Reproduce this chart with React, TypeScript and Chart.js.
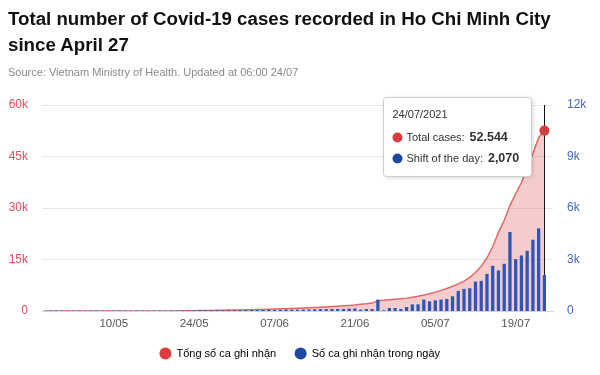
import React, { useEffect, useRef } from 'react';
import { Chart, registerables } from 'chart.js';

Chart.register(...registerables);

const DATES = [
  '28/04', '29/04', '30/04',
  '01/05', '02/05', '03/05', '04/05', '05/05', '06/05', '07/05', '08/05', '09/05', '10/05',
  '11/05', '12/05', '13/05', '14/05', '15/05', '16/05', '17/05', '18/05', '19/05', '20/05',
  '21/05', '22/05', '23/05', '24/05', '25/05', '26/05', '27/05', '28/05', '29/05', '30/05', '31/05',
  '01/06', '02/06', '03/06', '04/06', '05/06', '06/06', '07/06', '08/06', '09/06', '10/06',
  '11/06', '12/06', '13/06', '14/06', '15/06', '16/06', '17/06', '18/06', '19/06', '20/06',
  '21/06', '22/06', '23/06', '24/06', '25/06', '26/06', '27/06', '28/06', '29/06', '30/06',
  '01/07', '02/07', '03/07', '04/07', '05/07', '06/07', '07/07', '08/07', '09/07', '10/07',
  '11/07', '12/07', '13/07', '14/07', '15/07', '16/07', '17/07', '18/07', '19/07', '20/07',
  '21/07', '22/07', '23/07', '24/07',
];
const YEAR = '2021';

const TOTAL_CASES = [
  0, 0, 2,
  3, 3, 5, 5, 6, 8, 8, 10, 10, 12,
  12, 14, 15, 15, 18, 20, 20, 22, 25, 28,
  32, 40, 55, 80, 110, 140, 170, 200, 230, 260, 290,
  320, 350, 390, 430, 470, 520, 570, 620, 680, 740,
  800, 870, 940, 1020, 1110, 1200, 1300, 1400, 1500, 1620,
  1750, 1950, 2100, 2300, 3000, 3100, 3250, 3400, 3550, 3750,
  4000, 4300, 4650, 5050, 5500, 6000, 6550, 7200, 7900, 8700,
  9800, 11200, 13000, 15500, 18700, 22900, 26340, 30700, 34150, 37360,
  41900, 45850, 50474, 52544,
];

const DAILY_CASES = [
  0, 0, 2,
  0, 0, 2, 0, 1, 2, 0, 2, 0, 2,
  0, 2, 1, 0, 3, 2, 0, 2, 3, 3,
  4, 8, 15, 25, 30, 30, 30, 30, 30, 30, 30,
  30, 30, 40, 40, 40, 50, 50, 50, 60, 60,
  60, 70, 70, 80, 90, 90, 100, 100, 100, 120,
  130, 59, 98, 98, 644, 20, 156, 156, 98, 215,
  371, 371, 644, 546, 605, 644, 683, 839, 1150, 1268,
  1307, 1697, 1736, 2145, 2613, 2340, 2730, 4583, 3003, 3218,
  3490, 4134, 4797, 2070,
];

const X_TICK_LABELS = ['10/05', '24/05', '07/06', '21/06', '05/07', '19/07'];
const LEFT_TICKS = [0, 15000, 30000, 45000, 60000];
const RIGHT_TICKS = [0, 3000, 6000, 9000, 12000];
const SERIES_NAMES = ['Tổng số ca ghi nhận', 'Số ca ghi nhận trong ngày'];
const TOOLTIP_LABELS = ['Total cases:', 'Shift of the day:'];

const FONT = '"Liberation Sans", Arial, Helvetica, sans-serif';
const RED = '#d93d3d';
const BLUE = '#1f47a6';
const BAR_BLUE = '#2c57b9';

const kFmt = (v: number) => (v === 0 ? '0' : v / 1000 + 'k');
const sepFmt = (v: number, sep: string) => String(v).replace(/\B(?=(\d{3})+(?!\d))/g, sep);

function roundRect(ctx: CanvasRenderingContext2D, x: number, y: number, w: number, h: number, r: number) {
  ctx.beginPath();
  ctx.moveTo(x + r, y);
  ctx.lineTo(x + w - r, y);
  ctx.arcTo(x + w, y, x + w, y + r, r);
  ctx.lineTo(x + w, y + h - r);
  ctx.arcTo(x + w, y + h, x + w - r, y + h, r);
  ctx.lineTo(x + r, y + h);
  ctx.arcTo(x, y + h, x, y + h - r, r);
  ctx.lineTo(x, y + r);
  ctx.arcTo(x, y, x + r, y, r);
  ctx.closePath();
}

const crosshairPlugin = {
  id: 'crosshair',
  beforeDatasetsDraw(chart: any) {
    const last = DATES.length - 1;
    const pt = chart.getDatasetMeta(0).data[last];
    if (!pt) return;
    const { ctx, chartArea } = chart;
    ctx.save();
    ctx.strokeStyle = '#111';
    ctx.lineWidth = 1;
    ctx.beginPath();
    const x = Math.round(pt.x) + 0.5;
    ctx.moveTo(x, chartArea.top);
    ctx.lineTo(x, chartArea.bottom);
    ctx.stroke();
    ctx.restore();
  },
};

const tooltipPlugin = {
  id: 'fixedTooltip',
  afterDraw(chart: any) {
    const last = DATES.length - 1;
    const pt = chart.getDatasetMeta(0).data[last];
    if (!pt) return;
    const { ctx, chartArea } = chart;
    const w = 148;
    const h = 79;
    const bx = Math.round(pt.x - 13 - w) + 0.5;
    const by = Math.round(chartArea.top - 8) + 0.5;
    ctx.save();
    ctx.shadowColor = 'rgba(0,0,0,0.18)';
    ctx.shadowBlur = 4;
    ctx.shadowOffsetX = 1;
    ctx.shadowOffsetY = 1;
    roundRect(ctx, bx, by, w, h, 3);
    ctx.fillStyle = '#ffffff';
    ctx.fill();
    ctx.shadowColor = 'transparent';
    ctx.strokeStyle = '#cfcfcf';
    ctx.lineWidth = 1;
    ctx.stroke();

    ctx.textBaseline = 'middle';
    ctx.textAlign = 'left';
    ctx.fillStyle = '#333';
    ctx.font = `11px ${FONT}`;
    ctx.fillText(`${DATES[last]}/${YEAR}`, bx + 9, by + 17);

    const rows = [
      { color: RED, label: TOOLTIP_LABELS[0], value: sepFmt(TOTAL_CASES[last], '.'), y: by + 40 },
      { color: BLUE, label: TOOLTIP_LABELS[1], value: sepFmt(DAILY_CASES[last], ','), y: by + 61 },
    ];
    rows.forEach((r) => {
      ctx.fillStyle = r.color;
      ctx.beginPath();
      ctx.arc(bx + 14, r.y, 5, 0, Math.PI * 2);
      ctx.fill();
      ctx.fillStyle = '#333';
      ctx.font = `11px ${FONT}`;
      ctx.fillText(r.label, bx + 23, r.y);
      const tw = ctx.measureText(r.label).width;
      ctx.font = `bold 12.5px ${FONT}`;
      ctx.fillText(r.value, bx + 23 + tw + 5, r.y);
    });
    ctx.restore();
  },
};

function ChartView() {
  const ref = useRef<HTMLCanvasElement | null>(null);
  useEffect(() => {
    if (!ref.current) return;
    const last = DATES.length - 1;
    const chart = new Chart(ref.current, {
      data: {
        datasets: [
          {
            type: 'line',
            label: SERIES_NAMES[0],
            data: TOTAL_CASES.map((v, i) => ({ x: i, y: v })),
            yAxisID: 'y',
            borderColor: '#e26868',
            borderWidth: 1.5,
            backgroundColor: 'rgba(228, 92, 92, 0.32)',
            fill: 'origin',
            tension: 0,
            pointRadius: (c: any) => (c.dataIndex === last ? 5 : 0),
            pointBackgroundColor: RED,
            pointBorderWidth: 0,
            order: 1,
          } as any,
          {
            type: 'bar',
            label: SERIES_NAMES[1],
            data: DAILY_CASES.map((v, i) => ({ x: i, y: v })),
            yAxisID: 'y1',
            backgroundColor: BAR_BLUE,
            barThickness: 2.6,
            order: 0,
          } as any,
        ],
      },
      options: {
        responsive: false,
        animation: false,
        events: [],
        layout: { padding: { top: 105, left: 0, right: 0, bottom: 6 } },
        scales: {
          x: {
            type: 'linear',
            offset: false,
            min: -0.5,
            max: DATES.length + 0.5,
            grid: { display: false, drawTicks: false, offset: false },
            border: { display: true, color: '#ccd6eb', width: 1 },
            afterBuildTicks: (s: any) => {
              s.ticks = X_TICK_LABELS.map((l) => ({ value: DATES.indexOf(l) }));
            },
            ticks: {
              autoSkip: false,
              maxRotation: 0,
              padding: 6,
              color: '#555',
              font: { family: FONT, size: 11.5 },
              callback: (v: any) => DATES[v] ?? '',
            },
            afterFit: (s: any) => {
              s.height = 18;
            },
          },
          y: {
            type: 'linear',
            position: 'left',
            min: 0,
            max: 60000,
            afterBuildTicks: (s: any) => {
              s.ticks = LEFT_TICKS.map((v) => ({ value: v }));
            },
            grid: { color: '#e6e6e6', drawTicks: false },
            border: { display: false },
            ticks: {
              padding: 14,
              color: '#e4485c',
              font: { family: FONT, size: 12 },
              callback: (v: any) => kFmt(Number(v)),
            },
            afterFit: (s: any) => {
              s.width = 42;
            },
          },
          y1: {
            type: 'linear',
            position: 'right',
            min: 0,
            max: 12000,
            afterBuildTicks: (s: any) => {
              s.ticks = RIGHT_TICKS.map((v) => ({ value: v }));
            },
            grid: { display: false, drawTicks: false },
            border: { display: false },
            ticks: {
              padding: 14,
              color: '#4768bd',
              font: { family: FONT, size: 12 },
              callback: (v: any) => kFmt(Number(v)),
            },
            afterFit: (s: any) => {
              s.width = 47;
            },
          },
        },
        plugins: {
          tooltip: { enabled: false },
          legend: {
            position: 'bottom',
            labels: {
              usePointStyle: true,
              boxWidth: 12,
              boxHeight: 8.5,
              padding: 19,
              color: '#333',
              font: { family: FONT, size: 11 },
              generateLabels: () =>
                SERIES_NAMES.map((name, i) => ({
                  text: name,
                  fillStyle: i === 0 ? RED : BLUE,
                  strokeStyle: i === 0 ? RED : BLUE,
                  lineWidth: 0,
                  pointStyle: 'circle',
                  hidden: false,
                  datasetIndex: i,
                })),
            },
          },
        },
      } as any,
      plugins: [crosshairPlugin, tooltipPlugin],
    });
    return () => chart.destroy();
  }, []);
  return (
    <canvas
      ref={ref}
      width={600}
      height={375}
      style={{ position: 'absolute', left: 0, top: 0, width: 600, height: 375 }}
    />
  );
}

export default function App() {
  return (
    <div
      style={{
        position: 'fixed',
        left: 0,
        top: 0,
        width: 600,
        height: 375,
        background: '#fff',
        overflow: 'hidden',
      }}
    >
      <ChartView />
      <div
        style={{
          position: 'absolute',
          left: 8,
          top: 6,
          width: 590,
          fontFamily: FONT,
          fontWeight: 'bold',
          fontSize: 18.7,
          lineHeight: '26px',
          color: '#111',
          whiteSpace: 'nowrap',
        }}
      >
        Total number of Covid-19 cases recorded in Ho Chi Minh City
        <br />
        since April 27
      </div>
      <div
        style={{
          position: 'absolute',
          left: 8,
          top: 65,
          fontFamily: FONT,
          fontSize: 11,
          lineHeight: '14px',
          color: '#8a8a8a',
          whiteSpace: 'nowrap',
        }}
      >
        Source: Vietnam Ministry of Health. Updated at 06:00 24/07
      </div>
    </div>
  );
}
